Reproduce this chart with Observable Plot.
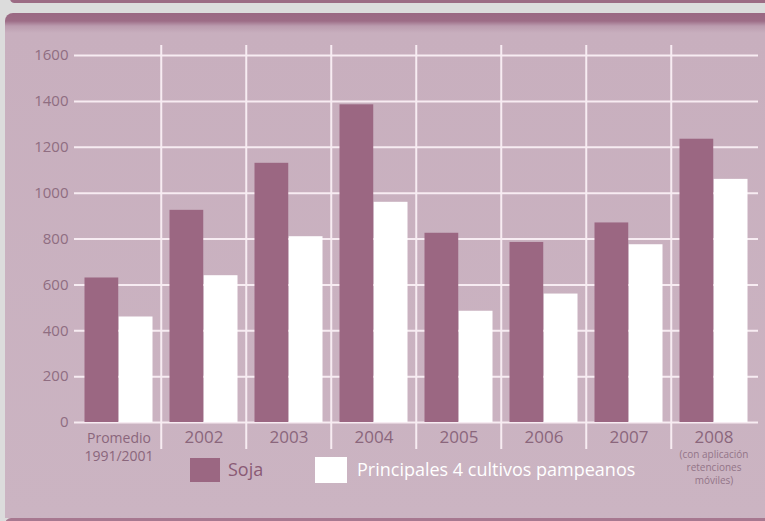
<!DOCTYPE html>
<html><head><meta charset="utf-8">
<script src="https://cdn.jsdelivr.net/npm/d3@7"></script>
<script src="https://cdn.jsdelivr.net/npm/@observablehq/plot@0.6"></script>
<style>
body{margin:0;width:765px;height:521px;background:#dcdcdc;overflow:hidden;position:relative;font-family:"Open Sans",sans-serif}
#topstrip{position:absolute;left:10px;top:-6px;width:760px;height:9px;background:#9c6b84;border-radius:6px}
#box{position:absolute;left:5px;top:13px;width:765px;height:505px;border-top-left-radius:8px;background:linear-gradient(#9a6883 0px,#9d6d87 8px,#bb9caf 13px,#c8afbe 20px,#cbb4c2 100%)}
#bottomstrip{position:absolute;left:5px;top:518px;width:765px;height:6px;background:#a77890;border-top-left-radius:6px}
#chart{position:absolute;left:0;top:0}
.sw{position:absolute}
.lt{position:absolute;font-size:18px;line-height:24px;white-space:nowrap}
</style></head>
<body>
<div id="topstrip"></div>
<div id="box"></div>
<div id="bottomstrip"></div>
<div id="chart"></div>
<div id="legend"></div>
<script>
const categories = ["Promedio 1991/2001","2002","2003","2004","2005","2006","2007","2008"];
const categoryLabels = ["Promedio\n1991/2001","2002","2003","2004","2005","2006","2007","2008"];
const note2008 = "(con aplicación\nretenciones\nmóviles)";
const series = ["Soja","Principales 4 cultivos pampeanos"];
const soja = [630, 925, 1130, 1385, 825, 785, 870, 1235];
const principales = [460, 640, 810, 960, 485, 560, 775, 1060];
const yTicks = [0,200,400,600,800,1000,1200,1400,1600];

const colors = ["#9b6782","#ffffff"];
const W=765,H=521,mL=74,mR=7,mT=55,mB=99;
const bw=(W-mL-mR)/categories.length;
const grid="#f7ecf2";
const rowsS = categories.map((c,i)=>({cat:c, serie:series[0], v:soja[i]}));
const rowsP = categories.map((c,i)=>({cat:c, serie:series[1], v:principales[i]}));

const chart = Plot.plot({
  width:W, height:H, marginLeft:mL, marginRight:mR, marginTop:mT, marginBottom:mB,
  style:{background:"transparent", fontFamily:"'Open Sans', sans-serif", overflow:"visible"},
  x:{domain:categories, padding:0, axis:null},
  y:{domain:[0,1600], axis:null},
  color:{domain:series, range:colors},
  marks:[
    Plot.ruleY(yTicks, {y:d=>d, stroke:grid, strokeWidth:2}),
    Plot.ruleX(categories.slice(1), {x:d=>d, dx:-bw/2, stroke:grid, strokeWidth:2, insetTop:-10, insetBottom:-27}),
    Plot.barY(rowsS, {x:"cat", y:"v", fill:"serie", insetLeft:8.5, insetRight:bw/2}),
    Plot.barY(rowsP, {x:"cat", y:"v", fill:"serie", insetLeft:bw/2, insetRight:8.5}),
    Plot.axisY({ticks:yTicks, tickSize:0, tickPadding:6, tickFormat:d=>String(d), fontSize:15, color:"#8f6d81", label:null}),
    Plot.text(categories.slice(1), {x:d=>d, text:(d,i)=>categoryLabels[i+1], frameAnchor:"bottom", dy:15, fontSize:17, fill:"#8a667c", lineAnchor:"middle"}),
    Plot.text(categories.slice(0,1), {x:d=>d, text:()=>categoryLabels[0], frameAnchor:"bottom", dy:24, fontSize:14, lineHeight:1.3, fill:"#8a667c", lineAnchor:"middle"}),
    Plot.text(categories.slice(-1), {x:d=>d, text:()=>note2008, frameAnchor:"bottom", dy:44, fontSize:10, lineHeight:1.3, fill:"#937488", lineAnchor:"middle", fontFamily:"'Liberation Sans Narrow', 'Open Sans', sans-serif"})
  ]
});
document.getElementById("chart").appendChild(chart);

const leg = document.getElementById("legend");
const items = [
  {sw:[190,458,30,24], tx:[228,457], color:colors[0], text:series[0], tc:"#8a5a75"},
  {sw:[315,457,32,26], tx:[357,457], color:colors[1], text:series[1], tc:"#ffffff"}
];
items.forEach(it=>{
  const s=document.createElement("div"); s.className="sw";
  s.style.cssText=`left:${it.sw[0]}px;top:${it.sw[1]}px;width:${it.sw[2]}px;height:${it.sw[3]}px;background:${it.color}`;
  leg.appendChild(s);
  const t=document.createElement("div"); t.className="lt";
  t.style.cssText=`left:${it.tx[0]}px;top:${it.tx[1]}px;color:${it.tc}`;
  t.textContent=it.text; leg.appendChild(t);
});
</script>
</body></html>
